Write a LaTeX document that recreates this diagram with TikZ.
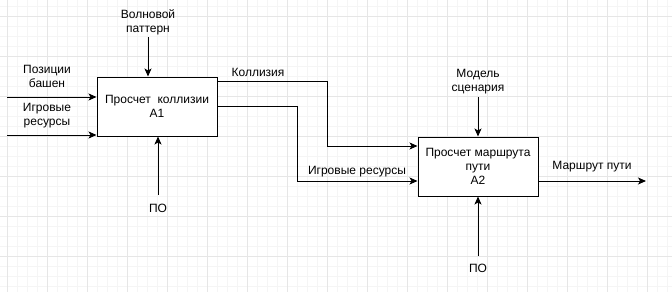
\documentclass[tikz,border=0pt]{standalone}
\usepackage{fontspec}
\setmainfont{Liberation Sans}
\usetikzlibrary{arrows.meta}
\definecolor{gridmajor}{HTML}{E6E6E6}
\definecolor{gridminor}{HTML}{F5F5F5}
\tikzset{
  px/.style={x=1pt,y=-1pt},
  fnt/.style={font=\fontsize{12}{14}\selectfont, align=center, inner sep=0pt},
  funcbox/.style={draw=black, line width=1pt, minimum width=120pt, minimum height=59pt, fill=white, fnt},
  flow/.style={draw=black, line width=1pt, -{Stealth[length=8pt,width=7pt,inset=2pt]}},
  lbl/.style={fnt},
}
\begin{document}
\begin{tikzpicture}[px]
\useasboundingbox (0,0) rectangle (672,292);
\fill[white] (0,0) rectangle (672,292);
% grid
\foreach \x in {-2.7,7.3,...,672} \draw[gridminor, line width=0.8pt] (\x,0) -- (\x,292);
\foreach \y in {6,16,...,292} \draw[gridminor, line width=0.8pt] (0,\y) -- (672,\y);
\foreach \x in {7.3,47.3,...,672} \draw[gridmajor, line width=0.8pt] (\x,0) -- (\x,292);
\foreach \y in {16,56,...,292} \draw[gridmajor, line width=0.8pt] (0,\y) -- (672,\y);

% boxes
\node[funcbox] (A1) at (157,106.5) {Просчет\ \ коллизии\\A1};
\node[funcbox] (A2) at (478,166.5) {Просчет маршрута\\пути\\A2};

% labels
\node[lbl] (lpos) at (47,76.5) {Позиции\\башен};
\node[lbl] (lres) at (47,116) {Игровые\\ресурсы};
\node[lbl] (lwave) at (148,22) {Волновой\\паттерн};
\node[lbl] (lcol) at (258,72) {Коллизия};
\node[lbl] (lres2) at (357,172) {Игровые ресурсы};
\node[lbl] (lpo1) at (158,208) {ПО};
\node[lbl] (lpo2) at (478,268) {ПО};
\node[lbl] (lmod) at (478,82) {Модель\\сценария};
\node[lbl] (lout) at (592,167) {Маршрут пути};

% coordinates
\coordinate (in1) at (7,97);
\coordinate (in2) at (7,135);
\coordinate (w1) at (148,37);
\coordinate (k1) at (327,81);
\coordinate (k2) at (327,146);
\coordinate (r1) at (297,106);
\coordinate (r2) at (297,181);
\coordinate (p1) at (158,195);
\coordinate (p2) at (478,256);
\coordinate (m1) at (478,97);
\coordinate (o1) at (646,181);

% connectors
\draw[flow] (in1) -- (in1 -| A1.west);
\draw[flow] (in2) -- (in2 -| A1.west);
\draw[flow] (w1) -- (w1 |- A1.north);
\draw[flow] (A1.east |- k1) -- (k1) -- (k2) -- (k2 -| A2.west);
\draw[flow] (A1.east |- r1) -- (r1) -- (r2) -- (r2 -| A2.west);
\draw[flow] (p1) -- (p1 |- A1.south);
\draw[flow] (p2) -- (p2 |- A2.south);
\draw[flow] (m1) -- (m1 |- A2.north);
\draw[flow] (A2.east |- o1) -- (o1);
\end{tikzpicture}
\end{document}
